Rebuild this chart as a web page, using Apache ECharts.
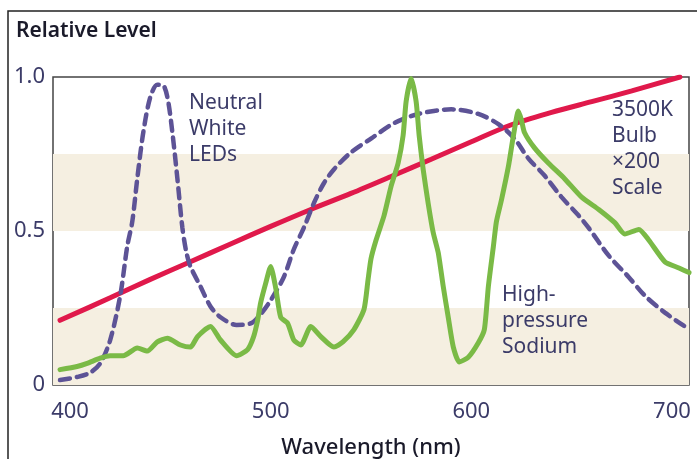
<!DOCTYPE html>
<html><head><meta charset="utf-8">
<script src="https://cdn.jsdelivr.net/npm/echarts@6/dist/echarts.min.js"></script>
<style>html,body{margin:0;padding:0;background:#fff}#c{width:697px;height:459px}</style>
</head><body><div id="c"></div>
<script>
var xTicks = [400, 500, 600, 700];
var yTicks = [0, 0.5, 1.0];
var bandRanges = [[0, 0.25], [0.5, 0.75]];

var bulb3500K = [[395,0.21],[420,0.283],[440,0.343],[460,0.40],[480,0.458],[500,0.515],[520,0.57],[540,0.622],[560,0.677],[580,0.733],[600,0.79],[620,0.845],[640,0.885],[660,0.92],[680,0.955],[704,1.0]];

var neutralWhiteLED = [[395,0.016],[403.5,0.026],[410,0.04],[415,0.07],[420,0.146],[425,0.29],[428.5,0.45],[431,0.53],[433.5,0.67],[436.5,0.82],[440,0.935],[443.5,0.975],[446,0.975],[448.5,0.935],[451,0.82],[453.5,0.67],[456,0.51],[458,0.43],[460,0.385],[465,0.32],[470,0.255],[475,0.22],[483,0.195],[490,0.2],[495,0.23],[500,0.275],[506.5,0.35],[511.5,0.44],[516.5,0.51],[521.5,0.59],[526.5,0.655],[531.5,0.70],[540,0.755],[550,0.80],[561.5,0.85],[573.5,0.88],[590,0.895],[603.5,0.88],[613.5,0.847],[621.5,0.80],[628.5,0.735],[636.5,0.68],[645,0.61],[653.5,0.55],[658.5,0.51],[668.5,0.42],[678.5,0.35],[686.5,0.29],[696.5,0.235],[706.5,0.19]];

var highPressureSodium = [[395,0.05],[403.5,0.06],[408.5,0.07],[415,0.087],[420,0.095],[426.5,0.095],[433.5,0.12],[438.5,0.11],[443.5,0.14],[448.5,0.152],[455,0.13],[460,0.123],[463.5,0.157],[470,0.19],[475,0.146],[483,0.095],[488.5,0.115],[491.5,0.157],[493.5,0.21],[495,0.267],[497.5,0.33],[500,0.385],[502.5,0.315],[505,0.22],[508.5,0.2],[511.5,0.146],[515,0.13],[520,0.19],[525,0.157],[531.5,0.123],[536,0.14],[541.5,0.18],[546.5,0.245],[548.5,0.34],[550,0.41],[552.5,0.47],[556.5,0.55],[560,0.645],[563.5,0.72],[566,0.81],[567.5,0.92],[570,0.995],[572.5,0.92],[574,0.81],[576,0.70],[578.5,0.59],[581,0.495],[583.5,0.43],[586,0.32],[588.5,0.22],[591,0.124],[594,0.075],[598.5,0.09],[603.5,0.137],[606.5,0.18],[608.5,0.32],[611,0.45],[612.5,0.53],[615,0.60],[618.5,0.71],[621,0.81],[623.5,0.89],[625,0.86],[626.5,0.82],[631.5,0.77],[638.5,0.72],[646.5,0.67],[655,0.61],[663.5,0.57],[671.5,0.527],[676.5,0.49],[683.5,0.505],[688.5,0.47],[696.5,0.40],[703.5,0.38],[708.5,0.365]];

var FONT = '"Noto Sans", "Open Sans", sans-serif';
var TXT = '#3b3b68';
var chart = echarts.init(document.getElementById('c'), null, {renderer: 'canvas'});
chart.setOption({
  animation: false,
  backgroundColor: '#fff',
  grid: {left: 53, right: 8, top: 77, bottom: 74, show: true, borderColor: '#444', borderWidth: 1.5, backgroundColor: 'transparent', containLabel: false, outerBoundsMode: 'none'},
  xAxis: {
    type: 'value', min: 391.5, max: 708.5,
    axisLine: {show: false}, axisTick: {show: false}, splitLine: {show: false},
    axisLabel: {customValues: xTicks, color: TXT, fontFamily: FONT, fontSize: 22, margin: 16},
    name: 'Wavelength (nm)', nameLocation: 'middle', nameGap: 52,
    nameTextStyle: {color: '#1a1a2a', fontFamily: FONT, fontSize: 22, fontWeight: 500}
  },
  yAxis: {
    type: 'value', min: 0, max: 1,
    axisLine: {show: false}, axisTick: {show: false}, splitLine: {show: false},
    axisLabel: {customValues: yTicks, color: TXT, fontFamily: FONT, fontSize: 22, margin: 8,
      formatter: function (v) { return v === 0 ? '0' : v.toFixed(1); }}
  },
  graphic: [
    {type: 'rect', shape: {x: 8, y: 11, width: 720, height: 480}, style: {fill: 'none', stroke: '#222', lineWidth: 1.5}, silent: true, z: 100},
    {type: 'text', left: 16, top: 21, z: 100, style: {text: 'Relative Level', font: '600 21px ' + FONT, fill: '#1a1a2a'}},
    {type: 'text', left: 189, top: 90, z: 100, style: {text: 'Neutral\nWhite\nLEDs', font: '21px ' + FONT, fill: TXT, lineHeight: 26}},
    {type: 'text', left: 612, top: 97, z: 100, style: {text: '3500K\nBulb\n×200\nScale', font: '21px ' + FONT, fill: TXT, lineHeight: 26}},
    {type: 'text', left: 502, top: 282, z: 100, style: {text: 'High-\npressure\nSodium', font: '21px ' + FONT, fill: TXT, lineHeight: 26}}
  ],
  series: [
    {
      type: 'line', name: '3500K Bulb', data: bulb3500K, showSymbol: false, smooth: 0.3, z: 2,
      lineStyle: {color: '#e0194b', width: 5, cap: 'round'},
      markArea: {silent: true, z: 1, itemStyle: {color: '#f5efe1'},
        data: bandRanges.map(function (r) { return [{yAxis: r[0]}, {yAxis: r[1]}]; })}
    },
    {
      type: 'line', name: 'Neutral White LEDs', data: neutralWhiteLED, showSymbol: false, smooth: 0.3, z: 3,
      lineStyle: {color: '#5d5396', width: 4.5, type: [10, 7], cap: 'round'}
    },
    {
      type: 'line', name: 'High-pressure Sodium', data: highPressureSodium, showSymbol: false, smooth: 0.2, z: 4,
      lineStyle: {color: '#7aba46', width: 5, cap: 'round', join: 'round'}
    }
  ]
});
</script></body></html>
